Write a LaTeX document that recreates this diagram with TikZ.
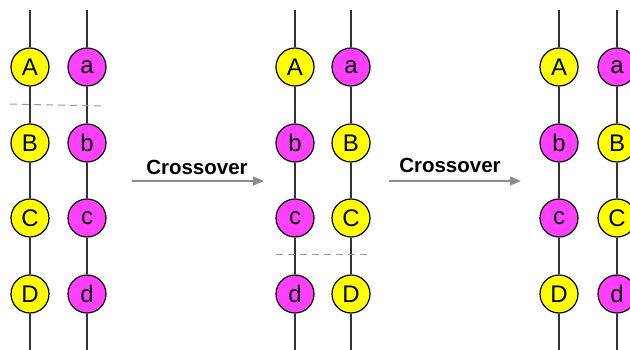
\documentclass[tikz,border=0pt]{standalone}
\usepackage{fontspec}
\setmainfont{Liberation Sans}
\usetikzlibrary{arrows.meta}
\definecolor{genemagenta}{RGB}{255,64,255}
\definecolor{geneyellow}{RGB}{255,255,0}
\begin{document}
\begin{tikzpicture}[x=1pt,y=-1pt,
  gene/.style={circle,draw=black,line width=1.2pt,minimum size=38pt,inner sep=0pt,
               font=\fontsize{24}{24}\selectfont},
  upper/.style={gene,fill=geneyellow},
  lower/.style={gene,fill=genemagenta},
  strand/.style={draw=black!80,line width=1.2pt},
  cutline/.style={draw=black!40,line width=1pt,dash pattern=on 7pt off 5pt},
  moveto/.style={draw=black!45,line width=1.2pt,-{Triangle[length=11pt,width=9pt]}},
  lbl/.style={font=\bfseries\fontsize{20.5}{20.5}\selectfont,anchor=base,inner sep=0pt}]
\useasboundingbox (0,0) rectangle (630,350);
\clip (0,0) rectangle (630,350);

% chromosomes: x position, name, then style/label of the four genes
\foreach \x/\n/\sa/\la/\sb/\lb/\sc/\lc/\sd/\ld in {
  30/L1/upper/A/upper/B/upper/C/upper/D,
  87/L2/lower/a/lower/b/lower/c/lower/d,
  295/M1/upper/A/lower/b/lower/c/lower/d,
  351/M2/lower/a/upper/B/upper/C/upper/D,
  559/R1/upper/A/lower/b/lower/c/upper/D,
  617/R2/lower/a/upper/B/upper/C/lower/d}{
  \coordinate (\n-top) at (\x,10);
  \coordinate (\n-bot) at (\x,352);
  \node[\sa] (\n-1) at (\x,67) {\la};
  \node[\sb] (\n-2) at (\x,143) {\lb};
  \node[\sc] (\n-3) at (\x,218) {\lc};
  \node[\sd] (\n-4) at (\x,294) {\ld};
  \draw[strand] (\n-top) -- (\n-1) -- (\n-2) -- (\n-3) -- (\n-4) -- (\n-bot);
}

% crossover points
\coordinate (cut1a) at (10,104);
\coordinate (cut1b) at (103,106);
\draw[cutline] (cut1a) -- (cut1b);
\coordinate (cut2a) at (276,255);
\coordinate (cut2b) at (367,255);
\draw[cutline] (cut2a) -- (cut2b);

% crossover steps
\coordinate (s1a) at (132,181);
\coordinate (s1b) at (264,181);
\draw[moveto] (s1a) -- (s1b);
\node[lbl] (t1) at (197,175) {Crossover};
\coordinate (s2a) at (389,181);
\coordinate (s2b) at (521,181);
\draw[moveto] (s2a) -- (s2b);
\node[lbl] (t2) at (450,173) {Crossover};
\end{tikzpicture}
\end{document}
